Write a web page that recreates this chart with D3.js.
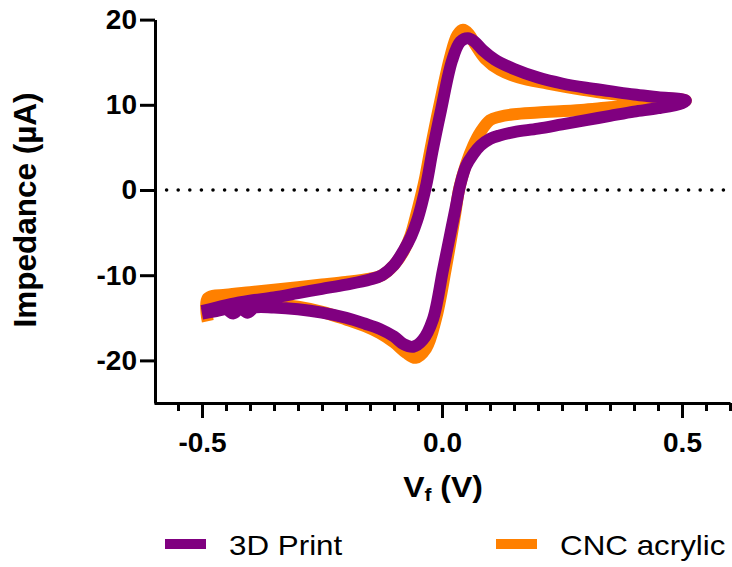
<!DOCTYPE html>
<html>
<head>
    <meta charset="utf-8">
    <script type="text/javascript" src="https://cdn.jsdelivr.net/npm/d3@7/dist/d3.min.js"></script>
    <style>
        body { margin: 0; background: white; }
        text { font-family: "Liberation Sans", Arial, sans-serif; }
    </style>
</head>
<body>
    <div id="chart"></div>
    <script type="text/javascript">
        // series: 3D Print (V, uA) - one CV loop
        const printV = [-0.5, -0.47, -0.44, -0.4, -0.35, -0.3, -0.25, -0.2, -0.15, -0.125, -0.1, -0.08, -0.064, -0.052,
            -0.042, -0.032, -0.02, -0.002, 0.021, 0.038, 0.054, 0.068, 0.085, 0.11, 0.15, 0.2, 0.25, 0.3, 0.35, 0.4, 0.45, 0.508,
            0.5, 0.45, 0.4, 0.35, 0.3, 0.25, 0.2, 0.15, 0.12, 0.1, 0.08, 0.065, 0.05, 0.038, 0.028, 0.015, 0.002, -0.019,
            -0.04, -0.06, -0.08, -0.1, -0.13, -0.16, -0.2, -0.25, -0.3, -0.35, -0.39, -0.405, -0.42, -0.435, -0.45, -0.47, -0.5];
        const printI = [-14.2, -13.8, -13.4, -13.0, -12.6, -12.1, -11.6, -11.1, -10.5, -10.0, -8.8, -7.1, -5.4, -3.6,
            -1.6, 0.8, 4.5, 9.4, 15.2, 17.4, 17.8, 17.4, 16.4, 15.3, 14.2, 13.2, 12.5, 12.0, 11.6, 11.2, 10.9, 10.5,
            10.2, 9.6, 9.2, 8.7, 8.2, 7.7, 7.2, 6.8, 6.4, 6.0, 5.2, 4.2, 2.8, 0.6, -2.2, -5.8, -9.4, -15.2,
            -17.6, -18.4, -18.1, -17.2, -16.3, -15.7, -15.0, -14.4, -14.0, -13.8, -13.8, -14.4, -13.9, -14.5, -14.0, -14.2, -14.5];

        // series: CNC acrylic (V, uA)
        const cncV = [-0.488, -0.488, -0.45, -0.4, -0.35, -0.3, -0.25, -0.2, -0.15, -0.125, -0.1, -0.08, -0.066, -0.055,
            -0.045, -0.036, -0.024, -0.006, 0.017, 0.032, 0.044, 0.056, 0.07, 0.09, 0.12, 0.16, 0.22, 0.29, 0.35, 0.42, 0.508,
            0.5, 0.45, 0.4, 0.35, 0.29, 0.2, 0.15, 0.12, 0.1, 0.08, 0.065, 0.05, 0.036, 0.027, 0.008, -0.012,
            -0.033, -0.055, -0.075, -0.1, -0.13, -0.16, -0.2, -0.25, -0.3, -0.35, -0.4, -0.45, -0.488, -0.488];
        const cncI = [-15.4, -12.7, -12.3, -12.0, -11.7, -11.4, -11.1, -10.8, -10.4, -10.0, -8.8, -7.2, -5.4, -3.2,
            -1.0, 1.2, 4.8, 9.8, 15.6, 18.2, 18.8, 18.3, 17.0, 15.4, 14.1, 13.2, 12.5, 11.8, 11.3, 10.9, 10.5,
            10.3, 10.1, 9.9, 9.7, 9.4, 9.1, 8.9, 8.6, 8.2, 6.8, 5.2, 3.0, 0.2, -3.0, -9.2, -15.0,
            -18.6, -19.7, -19.1, -17.9, -16.8, -16.0, -15.2, -14.3, -13.7, -13.4, -13.4, -13.5, -13.8, -15.4];

        const seriesNames = ["3D Print", "CNC acrylic"];
        const seriesColors = ["#800080", "#ff8000"];

        const xMajorTicks = [-0.5, 0.0, 0.5];
        const yTicks = [-20, -10, 0, 10, 20];

        const width = 732, height = 567;

        const svg = d3.select("#chart")
            .append("svg")
            .attr("width", width)
            .attr("height", height)
            .style("background-color", "white");

        const x = d3.scaleLinear().domain([-0.6, 0.6]).range([154, 730]);
        const y = d3.scaleLinear().domain([-25, 20]).range([403, 19.6]);

        const fmt = v => (v < 0 ? "-" : "") + Math.abs(v).toString();
        const fmtX = v => (v < 0 ? "-" : "") + Math.abs(v).toFixed(1);

        // zero reference line (dotted)
        svg.append("line")
            .attr("x1", x(-0.6) + 12.6)
            .attr("x2", x(0.6) - 2)
            .attr("y1", y(0))
            .attr("y2", y(0))
            .style("stroke", "black")
            .style("stroke-width", 3.6)
            .style("stroke-linecap", "round")
            .style("stroke-dasharray", "0 11.6");

        // curves
        const line = d3.line()
            .x(d => x(d[0]))
            .y(d => y(d[1]))
            .curve(d3.curveCatmullRom.alpha(0.5));

        const cncData = cncV.map((v, i) => [v, cncI[i]]);
        const printData = printV.map((v, i) => [v, printI[i]]);

        svg.append("path")
            .datum(cncData)
            .attr("d", line)
            .style("fill", "none")
            .style("stroke", seriesColors[1])
            .style("stroke-width", 12)
            .style("stroke-linejoin", "round");

        svg.append("path")
            .datum(printData)
            .attr("d", line)
            .style("fill", "none")
            .style("stroke", seriesColors[0])
            .style("stroke-width", 12)
            .style("stroke-linejoin", "round");

        // y axis
        svg.append("g")
            .attr("transform", `translate(${x(-0.6) + 1},0)`)
            .call(d3.axisLeft(y).tickValues(yTicks).tickSize(15).tickSizeOuter(0).tickPadding(3).tickFormat(fmt));

        // x axis: minor ticks every 0.05
        const minorTicks = d3.range(-11, 13).map(k => k * 0.05).filter(v => Math.abs(v * 2 - Math.round(v * 2)) > 1e-6);
        svg.append("g")
            .attr("transform", `translate(0,${y(-25)})`)
            .call(d3.axisBottom(x).tickValues(minorTicks).tickSize(8).tickSizeOuter(0).tickFormat(""))
            .select(".domain").remove();
        const xAxis = svg.append("g")
            .attr("transform", `translate(0,${y(-25)})`)
            .call(d3.axisBottom(x).tickValues(xMajorTicks).tickSize(15).tickSizeOuter(0).tickPadding(3).tickFormat(fmtX));

        svg.selectAll(".domain, .tick line")
            .style("stroke", "black")
            .style("stroke-width", 3);
        svg.selectAll(".tick text")
            .style("font-family", "'Liberation Sans', Arial, sans-serif")
            .style("font-weight", "bold")
            .style("font-size", "28px")
            .style("fill", "black");
        xAxis.selectAll(".tick text").attr("dy", "1.1em");

        // axis titles
        const xTitle = svg.append("text")
            .attr("transform", "translate(443,497) scale(1.1,1)")
            .attr("text-anchor", "middle")
            .style("font-weight", "bold")
            .style("font-size", "29px");
        xTitle.append("tspan").text("V");
        xTitle.append("tspan").text("f").attr("dy", 4).style("font-size", "19px");
        xTitle.append("tspan").text(" (V)").attr("dy", -4);

        svg.append("text")
            .attr("transform", "translate(36,210) rotate(-90)")
            .attr("text-anchor", "middle")
            .style("font-weight", "bold")
            .style("font-size", "31.5px")
            .text("Impedance (µA)");

        // legend
        const legendX = [165, 496];
        seriesNames.forEach((name, i) => {
            svg.append("rect")
                .attr("x", legendX[i])
                .attr("y", 539)
                .attr("width", 41)
                .attr("height", 10)
                .style("fill", seriesColors[i]);
            svg.append("text")
                .attr("transform", `translate(${legendX[i] + 64},555) scale(1.12,1)`)
                .style("font-size", "28px")
                .text(name);
        });
    </script>
</body>
</html>
